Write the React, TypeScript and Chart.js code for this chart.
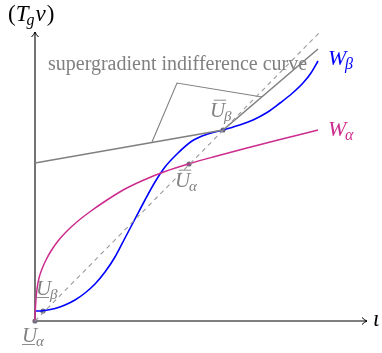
import React, { useEffect, useRef } from "react";
import { Chart, registerables } from "chart.js";
Chart.register(...registerables);

// W_beta curve (blue)
const betaX = [0, 0.8, 2.0, 3.0, 4.0, 5.0, 6.0, 7.0, 8.0, 9.0, 10.0, 11.0, 12.0, 13.0, 14.2, 15.7, 17.2, 18.8, 20.3, 21.8, 23.2, 24.5, 25.7, 26.8, 27.6, 28.3];
const betaY = [1.0, 1.03, 1.25, 1.6, 2.1, 2.8, 3.7, 4.9, 6.4, 8.3, 10.2, 12.1, 13.9, 15.4, 16.7, 18.0, 18.67, 19.1, 19.55, 20.1, 20.85, 21.8, 22.75, 23.8, 24.8, 26.0];
// W_alpha curve (magenta)
const alphaX = [0, 0.03, 0.1, 0.2, 0.4, 0.7, 1.1, 1.6, 2.3, 3.2, 4.3, 5.6, 7.2, 9.0, 11.0, 13.0, 15.5, 18.0, 21.0, 24.5, 28.3];
const alphaY = [0, 1.0, 2.2, 3.2, 4.3, 5.2, 6.1, 7.0, 8.0, 9.0, 10.0, 11.0, 12.1, 13.2, 14.15, 14.95, 15.75, 16.45, 17.25, 18.15, 19.1];
// dashed 45-degree line
const diagX = [0, 28.4];
const diagY = [0, 28.8];
// supergradient indifference curve (kinked line)
const kinkX = [0, 18.8, 28.3];
const kinkY = [15.8, 19.1, 27.2];
// cone annotation
const coneX = [11.7, 14.2, 22.7];
const coneY = [17.9, 23.8, 22.4];
// marked points: U_alpha (low), U_beta (low), U_alpha (bar), U_beta (bar)
const pointX = [0, 0.8, 15.4, 18.8];
const pointY = [0, 1.0, 15.7, 19.1];
// axis extents
const axisXEnd = 33.2;
const axisYEnd = 28.9;

const toPts = (xs: number[], ys: number[]) => xs.map((x, i) => ({ x, y: ys[i] }));

const SERIF = '"Liberation Serif", "Times New Roman", serif';
const GREY = "#808080";
const BLUE = "#0000ff";
const MAGENTA = "#cc2c8d";

function sym(
  ctx: CanvasRenderingContext2D,
  x: number,
  y: number,
  main: string,
  sub: string,
  color: string,
  size: number,
  subSize: number,
  deco?: "bar" | "under"
) {
  ctx.save();
  ctx.fillStyle = color;
  ctx.strokeStyle = color;
  ctx.lineWidth = 0.9;
  ctx.textAlign = "left";
  ctx.textBaseline = "alphabetic";
  ctx.font = `italic ${size}px ${SERIF}`;
  ctx.fillText(main, x, y);
  const w = ctx.measureText(main).width;
  if (deco === "bar") {
    ctx.beginPath();
    ctx.moveTo(x + size * 0.18, y - size * 0.8);
    ctx.lineTo(x + w + 1, y - size * 0.8);
    ctx.stroke();
  } else if (deco === "under") {
    ctx.beginPath();
    ctx.moveTo(x, y + 2.5);
    ctx.lineTo(x + w - size * 0.1, y + 2.5);
    ctx.stroke();
  }
  if (sub) {
    ctx.font = `italic ${subSize}px ${SERIF}`;
    ctx.fillText(sub, x + w - size * 0.06, y + size * 0.2);
  }
  ctx.restore();
}

const overlay = {
  id: "overlay",
  beforeDatasetsDraw(chart: any) {
    const ctx: CanvasRenderingContext2D = chart.ctx;
    const xs = chart.scales.x;
    const ys = chart.scales.y;
    const ox = xs.getPixelForValue(0);
    const oy = ys.getPixelForValue(0);
    const ex = xs.getPixelForValue(axisXEnd);
    const ey = ys.getPixelForValue(axisYEnd);
    ctx.save();
    ctx.strokeStyle = "#000";
    ctx.lineWidth = 1.1;
    ctx.beginPath();
    ctx.moveTo(ox, oy);
    ctx.lineTo(ex, oy);
    ctx.moveTo(ox, oy);
    ctx.lineTo(ox, ey);
    ctx.stroke();
    ctx.lineWidth = 1;
    ctx.beginPath();
    ctx.moveTo(ex - 5, oy - 3.5);
    ctx.quadraticCurveTo(ex - 2, oy - 0.5, ex, oy);
    ctx.quadraticCurveTo(ex - 2, oy + 0.5, ex - 5, oy + 3.5);
    ctx.moveTo(ox - 3.5, ey + 5);
    ctx.quadraticCurveTo(ox - 0.5, ey + 2, ox, ey);
    ctx.quadraticCurveTo(ox + 0.5, ey + 2, ox + 3.5, ey + 5);
    ctx.stroke();
    ctx.restore();
  },
  afterDatasetsDraw(chart: any) {
    const ctx: CanvasRenderingContext2D = chart.ctx;
    const xs = chart.scales.x;
    const ys = chart.scales.y;
    const ox = xs.getPixelForValue(0);
    const oy = ys.getPixelForValue(0);
    const ex = xs.getPixelForValue(axisXEnd);
    const ey = ys.getPixelForValue(axisYEnd);
    ctx.save();
    let cx = ox - 27;
    const by = ey - 11;
    ctx.fillStyle = "#000";
    ctx.textBaseline = "alphabetic";
    ctx.font = `23px ${SERIF}`;
    ctx.fillText("(", cx, by);
    cx += ctx.measureText("(").width;
    ctx.font = `italic 23px ${SERIF}`;
    ctx.fillText("T", cx, by);
    cx += ctx.measureText("T").width - 2;
    ctx.font = `italic 16px ${SERIF}`;
    ctx.fillText("g", cx, by + 4);
    cx += ctx.measureText("g").width + 1;
    ctx.font = `italic 23px ${SERIF}`;
    ctx.fillText("v", cx, by);
    cx += ctx.measureText("v").width + 1;
    ctx.font = `23px ${SERIF}`;
    ctx.fillText(")", cx, by);
    ctx.font = `italic 23px ${SERIF}`;
    ctx.fillText("\u03B9", ex + 6, oy + 5);
    ctx.fillStyle = GREY;
    ctx.font = `20px ${SERIF}`;
    ctx.fillText("supergradient indifference curve", xs.getPixelForValue(1.3), ys.getPixelForValue(25.1));
    ctx.restore();

    const bEndX = xs.getPixelForValue(betaX[betaX.length - 1]);
    const bEndY = ys.getPixelForValue(betaY[betaY.length - 1]);
    sym(ctx, bEndX + 10, bEndY + 4, "W", "\u03B2", BLUE, 22, 16);
    const aEndX = xs.getPixelForValue(alphaX[alphaX.length - 1]);
    const aEndY = ys.getPixelForValue(alphaY[alphaY.length - 1]);
    sym(ctx, aEndX + 10, aEndY + 6, "W", "\u03B1", MAGENTA, 22, 16);

    const px = pointX.map((v) => xs.getPixelForValue(v));
    const py = pointY.map((v) => ys.getPixelForValue(v));
    sym(ctx, px[0] - 13, py[0] + 21, "U", "\u03B1", GREY, 21, 15, "under");
    sym(ctx, px[1] - 7, py[1] - 16, "U", "\u03B2", GREY, 21, 15, "under");
    sym(ctx, px[2] - 14, py[2] + 23, "U", "\u03B1", GREY, 21, 15, "bar");
    sym(ctx, px[3] - 13, py[3] - 13, "U", "\u03B2", GREY, 21, 15, "bar");
  },
};

export default function App() {
  const ref = useRef<HTMLCanvasElement>(null);
  useEffect(() => {
    document.body.style.margin = "0";
    const chart = new Chart(ref.current as HTMLCanvasElement, {
      type: "line",
      data: {
        datasets: [
          {
            data: toPts(diagX, diagY),
            borderColor: "#9a9a9a",
            borderWidth: 1.1,
            borderDash: [4.5, 4],
            pointRadius: 0,
            fill: false,
          },
          {
            data: toPts(kinkX, kinkY),
            borderColor: GREY,
            borderWidth: 1.5,
            pointRadius: 0,
            tension: 0,
            fill: false,
          },
          {
            data: toPts(coneX, coneY),
            borderColor: GREY,
            borderWidth: 1.1,
            pointRadius: 0,
            tension: 0,
            fill: false,
          },
          {
            data: toPts(alphaX, alphaY),
            borderColor: MAGENTA,
            borderWidth: 1.5,
            pointRadius: 0,
            cubicInterpolationMode: "monotone",
            fill: false,
          },
          {
            data: toPts(betaX, betaY),
            borderColor: BLUE,
            borderWidth: 1.6,
            pointRadius: 0,
            cubicInterpolationMode: "monotone",
            fill: false,
          },
          {
            data: toPts(pointX, pointY),
            showLine: false,
            pointRadius: 2.6,
            pointBackgroundColor: "#6f6f80",
            pointBorderWidth: 0,
            borderColor: "#6f6f80",
          },
        ],
      },
      options: {
        responsive: false,
        animation: false,
        events: [],
        layout: { padding: 0, autoPadding: false },
        plugins: { legend: { display: false }, tooltip: { enabled: false } },
        scales: {
          x: { type: "linear", min: -3.5, max: 34.7, display: false },
          y: { type: "linear", min: -3.2, max: 32.1, display: false },
        },
      },
      plugins: [overlay],
    });
    return () => chart.destroy();
  }, []);
  return (
    <div style={{ position: "absolute", left: 0, top: 0, width: 382, height: 353, background: "#fff" }}>
      <canvas ref={ref} width={382} height={353} />
    </div>
  );
}
